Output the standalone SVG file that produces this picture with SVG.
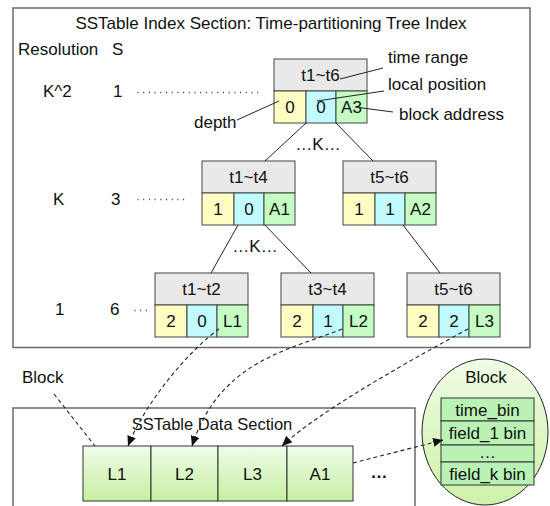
<svg xmlns="http://www.w3.org/2000/svg" width="550" height="506" viewBox="0 0 550 506">
  <defs>
    <style>
      text { font-family: "Liberation Sans", Arial, Helvetica, sans-serif; font-size: 17px; fill: #111; }
      .mid { text-anchor: middle; }
      .frame { fill: #fff; stroke: #6a6a6a; stroke-width: 1.5; }
      .hdr { fill: #e9e9e9; stroke: #444; stroke-width: 1; }
      .dep { fill: #ffffc4; stroke: #444; stroke-width: 1; }
      .pos { fill: #c2fbff; stroke: #444; stroke-width: 1; }
      .adr { fill: #c4fcc4; stroke: #444; stroke-width: 1; }
      .edge { stroke: #222; stroke-width: 1; fill: none; }
      .dots { stroke: #333; stroke-width: 1.3; stroke-dasharray: 1 4.7; fill: none; }
      .dash { stroke: #222; stroke-width: 1.1; stroke-dasharray: 4 3; fill: none; }
      .blk { fill: url(#blkFill); stroke: #333; stroke-width: 1; }
      .bin { fill: #b9f2b4; stroke: #333; stroke-width: 1; }
    </style>
    <linearGradient id="blkFill" x1="0" y1="0" x2="0" y2="1">
      <stop offset="0" stop-color="#f1fce9"/>
      <stop offset="1" stop-color="#c6efa2"/>
    </linearGradient>
    <linearGradient id="ovalFill" x1="0" y1="0" x2="0" y2="1">
      <stop offset="0" stop-color="#f0fce4"/>
      <stop offset="1" stop-color="#cdf2a8"/>
    </linearGradient>
    <marker id="arrow" markerUnits="userSpaceOnUse" markerWidth="10" markerHeight="9" refX="10" refY="4.5" orient="auto">
      <path d="M0,0 L10,4.5 L0,9 z" fill="#111"/>
    </marker>
  </defs>

  <!-- index section frame -->
  <g id="index-section">
    <rect class="frame" x="13" y="8" width="517" height="339.5"/>
    <text class="mid" x="271" y="29">SSTable Index Section: Time-partitioning Tree Index</text>
    <text x="18" y="55">Resolution</text>
    <text x="112" y="55">S</text>
    <text x="43" y="97">K^2</text>
    <text x="113" y="97">1</text>
    <text x="53" y="205">K</text>
    <text x="111" y="205">3</text>
    <text x="55" y="315">1</text>
    <text x="110" y="315">6</text>
    <line class="dots" x1="137.5" y1="92.5" x2="262" y2="92.5"/>
    <line class="dots" x1="137.5" y1="199.5" x2="185" y2="199.5"/>
    <line class="dots" x1="134.5" y1="310.5" x2="148" y2="310.5"/>
  </g>

  <!-- data section frame -->
  <g id="data-section">
    <rect class="frame" x="13" y="408" width="402" height="110"/>
    <text class="mid" x="212" y="430" style="font-size:16.5px">SSTable Data Section</text>
    <text x="22" y="383">Block</text>
  </g>

  <g id="annotations">
    <text x="388" y="63">time range</text>
    <text x="388" y="90">local position</text>
    <text x="399" y="120">block address</text>
    <text x="194" y="128">depth</text>
    <text class="mid" x="318" y="150">…K…</text>
    <text class="mid" x="255" y="252">…K…</text>
  </g>

  <!-- tree nodes: header row (time range) + depth / position / address cells -->
  <g id="node-root">
    <rect class="hdr" x="274" y="59" width="93" height="32"/>
    <rect class="dep" x="274" y="91" width="32" height="32"/>
    <rect class="pos" x="306" y="91" width="30" height="32"/>
    <rect class="adr" x="336" y="91" width="31" height="32"/>
    <text class="mid" x="320.5" y="81">t1~t6</text>
    <text class="mid" x="290" y="113">0</text>
    <text class="mid" x="321" y="113">0</text>
    <text class="mid" x="351.5" y="113">A3</text>
  </g>

  <g id="node-t1-t4">
    <rect class="hdr" x="202" y="161" width="93" height="32"/>
    <rect class="dep" x="202" y="193" width="32" height="32"/>
    <rect class="pos" x="234" y="193" width="30" height="32"/>
    <rect class="adr" x="264" y="193" width="31" height="32"/>
    <text class="mid" x="248.5" y="183">t1~t4</text>
    <text class="mid" x="218" y="215">1</text>
    <text class="mid" x="249" y="215">0</text>
    <text class="mid" x="279.5" y="215">A1</text>
  </g>

  <g id="node-t5-t6-k">
    <rect class="hdr" x="343" y="161" width="93" height="32"/>
    <rect class="dep" x="343" y="193" width="32" height="32"/>
    <rect class="pos" x="375" y="193" width="30" height="32"/>
    <rect class="adr" x="405" y="193" width="31" height="32"/>
    <text class="mid" x="389.5" y="183">t5~t6</text>
    <text class="mid" x="359" y="215">1</text>
    <text class="mid" x="390" y="215">1</text>
    <text class="mid" x="420.5" y="215">A2</text>
  </g>

  <g id="node-t1-t2">
    <rect class="hdr" x="155" y="273" width="93" height="32"/>
    <rect class="dep" x="155" y="305" width="32" height="32"/>
    <rect class="pos" x="187" y="305" width="30" height="32"/>
    <rect class="adr" x="217" y="305" width="31" height="32"/>
    <text class="mid" x="201.5" y="295">t1~t2</text>
    <text class="mid" x="171" y="327">2</text>
    <text class="mid" x="202" y="327">0</text>
    <text class="mid" x="232.5" y="327">L1</text>
  </g>

  <g id="node-t3-t4">
    <rect class="hdr" x="281" y="273" width="93" height="32"/>
    <rect class="dep" x="281" y="305" width="32" height="32"/>
    <rect class="pos" x="313" y="305" width="30" height="32"/>
    <rect class="adr" x="343" y="305" width="31" height="32"/>
    <text class="mid" x="327.5" y="295">t3~t4</text>
    <text class="mid" x="297" y="327">2</text>
    <text class="mid" x="328" y="327">1</text>
    <text class="mid" x="358.5" y="327">L2</text>
  </g>

  <g id="node-t5-t6-1">
    <rect class="hdr" x="407" y="273" width="93" height="32"/>
    <rect class="dep" x="407" y="305" width="32" height="32"/>
    <rect class="pos" x="439" y="305" width="30" height="32"/>
    <rect class="adr" x="469" y="305" width="31" height="32"/>
    <text class="mid" x="453.5" y="295">t5~t6</text>
    <text class="mid" x="423" y="327">2</text>
    <text class="mid" x="454" y="327">2</text>
    <text class="mid" x="484.5" y="327">L3</text>
  </g>

  <!-- data blocks -->
  <g id="block-L1">
    <rect class="blk" x="83" y="446" width="68" height="55"/>
    <text class="mid" x="117" y="480">L1</text>
  </g>
  <g id="block-L2">
    <rect class="blk" x="151" y="446" width="67" height="55"/>
    <text class="mid" x="184.5" y="480">L2</text>
  </g>
  <g id="block-L3">
    <rect class="blk" x="218" y="446" width="69" height="55"/>
    <text class="mid" x="252.5" y="480">L3</text>
  </g>
  <g id="block-A1">
    <rect class="blk" x="287" y="446" width="66" height="55"/>
    <text class="mid" x="320" y="480">A1</text>
  </g>
  <text class="mid" x="379" y="478" style="font-weight:bold">…</text>

  <!-- block layout detail -->
  <g id="block-detail">
    <ellipse cx="485" cy="432" rx="63" ry="73" fill="url(#ovalFill)" stroke="#222" stroke-width="1"/>
    <text class="mid" x="486" y="383">Block</text>
    <rect class="bin" x="441" y="398" width="93" height="23"/>
    <rect class="bin" x="441" y="421" width="93" height="24"/>
    <rect class="bin" x="441" y="445" width="93" height="17"/>
    <rect class="bin" x="441" y="462" width="93" height="23"/>
    <text class="mid" x="487.5" y="416">time_bin</text>
    <text class="mid" x="487.5" y="439">field_1 bin</text>
    <text class="mid" x="487.5" y="458">…</text>
    <text class="mid" x="487.5" y="480">field_k bin</text>
  </g>

  <!-- connectors: tree edges, callout leaders, block pointers -->
  <g id="connectors">
    <line class="edge" x1="306" y1="123" x2="265" y2="161"/>
    <line class="edge" x1="336" y1="123" x2="373" y2="161"/>
    <line class="edge" x1="238" y1="225" x2="211" y2="273"/>
    <line class="edge" x1="265" y1="225" x2="311" y2="273"/>
    <line class="edge" x1="403" y1="225" x2="440" y2="273"/>

    <line class="edge" x1="340" y1="79" x2="383" y2="68"/>
    <line class="edge" x1="317" y1="101" x2="384" y2="91"/>
    <line class="edge" x1="355" y1="107" x2="393" y2="112"/>
    <line class="edge" x1="237" y1="120" x2="279" y2="101"/>

    <path class="dash" d="M219,329 C192,348 146,400 128,446" marker-end="url(#arrow)"/>
    <path class="dash" d="M342,329 C290,350 220,360 192,446" marker-end="url(#arrow)"/>
    <path class="dash" d="M468,329 C420,355 320,410 282,446" marker-end="url(#arrow)"/>
    <line class="dash" x1="54" y1="394" x2="95" y2="446"/>
    <line class="dash" x1="353" y1="463" x2="443" y2="440" marker-end="url(#arrow)"/>
  </g>
</svg>
